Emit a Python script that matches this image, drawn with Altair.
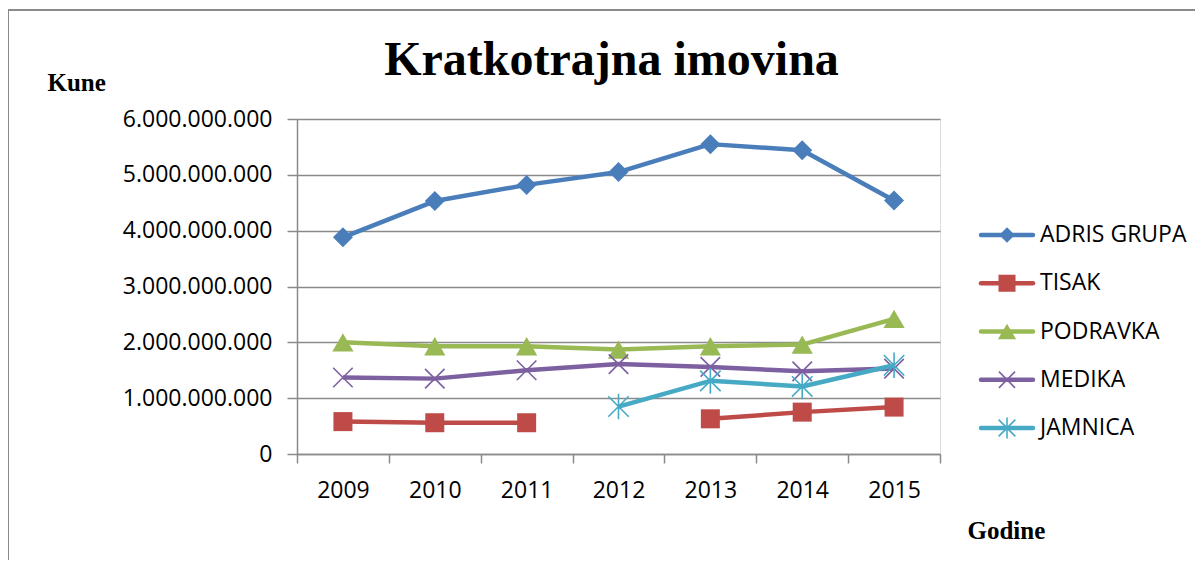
import altair as alt
import pandas as pd

# ---- data ----
years = ["2009", "2010", "2011", "2012", "2013", "2014", "2015"]
series_names = ["ADRIS GRUPA", "TISAK", "PODRAVKA", "MEDIKA", "JAMNICA"]
adris = [3880000000, 4530000000, 4820000000, 5050000000, 5550000000, 5440000000, 4540000000]
tisak = [580000000, 560000000, 560000000, None, 630000000, 750000000, 840000000]
podravka = [2000000000, 1930000000, 1930000000, 1870000000, 1930000000, 1960000000, 2420000000]
medika = [1370000000, 1350000000, 1500000000, 1610000000, 1560000000, 1480000000, 1530000000]
jamnica = [None, None, None, 850000000, 1310000000, 1210000000, 1590000000]
y_ticks = [0, 1000000000, 2000000000, 3000000000, 4000000000, 5000000000, 6000000000]
chart_title = ["Kratkotrajna imovina"]

# ---- styles ----
colors = ["#4A7EBB", "#BE4B48", "#98B954", "#7D60A0", "#46AAC5"]
X_PATH = "M-1,-1L1,1M-1,1L1,-1"
AST_PATH = "M-1,-1L1,1M-1,1L1,-1M0,-1.25L0,1.25"
shapes = ["diamond", "square", "triangle-up", X_PATH, AST_PATH]
filled = [True, True, True, False, False]
msize = [400, 361, 450, 380, 420]
lsize = [240, 290, 330, 260, 280]
GRID = "#8a8a8a"
SANS = "Open Sans"
SERIF = "Liberation Serif"

all_values = [adris, tisak, podravka, medika, jamnica]


def long_frame(name, vals):
    rows = []
    seg = 0
    for yr, v in zip(years, vals):
        if v is None:
            seg += 1
            continue
        rows.append({"year": yr, "value": v, "series": name, "seg": seg})
    return pd.DataFrame(rows)


x_enc = alt.X(
    "year:O",
    scale=alt.Scale(type="band", domain=years, paddingInner=0, paddingOuter=0),
    axis=alt.Axis(
        tickBand="extent", labelAngle=0, grid=False,
        labelFont=SANS, labelFontSize=23, labelColor="black", labelPadding=16,
        tickSize=9, tickColor=GRID, tickWidth=1.5, domainColor=GRID, domainWidth=1.5,
        title="Godine", titleX=670, titleY=84, titleAngle=0, titleAlign="left",
        titleBaseline="alphabetic", titleFont=SERIF, titleFontSize=25,
        titleFontWeight="bold", titleColor="black",
    ),
)
y_enc = alt.Y(
    "value:Q",
    scale=alt.Scale(domain=[0, 6000000000], nice=False, zero=True),
    axis=alt.Axis(
        values=y_ticks,
        labelExpr="replace(format(datum.value, ','), regexp(',', 'g'), '.')",
        grid=True, gridColor=GRID, gridWidth=1.5,
        labelFont=SANS, labelFontSize=23, labelColor="black", labelPadding=15,
        tickSize=10, tickColor=GRID, tickWidth=1.5, domainColor=GRID, domainWidth=1.5,
        title="Kune", titleX=-250, titleY=-29, titleAngle=0, titleAlign="left",
        titleBaseline="alphabetic", titleFont=SERIF, titleFontSize=25,
        titleFontWeight="bold", titleColor="black",
    ),
)

series_layers = []
for i, name in enumerate(series_names):
    df = long_frame(name, all_values[i])
    base = alt.Chart(df)
    line = base.mark_line(color=colors[i], strokeWidth=4.5, strokeJoin="round").encode(
        x=x_enc, y=y_enc, detail="seg:N"
    )
    pts = base.mark_point(
        shape=shapes[i], filled=filled[i], size=msize[i], color=colors[i],
        opacity=1, strokeWidth=1.6,
    ).encode(x=x_enc, y=y_enc)
    series_layers += [line, pts]

main = alt.layer(*series_layers)

# ---- manual legend (line + marker) ----
ly = alt.Y(
    "name:N",
    scale=alt.Scale(type="point", domain=series_names, range=[116, 309], padding=0),
    axis=None,
)
legend_layers = []
for i, name in enumerate(series_names):
    ld = alt.Chart(pd.DataFrame({"name": [name]}))
    legend_layers.append(
        ld.mark_rule(color=colors[i], strokeWidth=4.5, strokeCap="round").encode(
            x=alt.value(684), x2=alt.value(736), y=ly
        )
    )
    legend_layers.append(
        ld.mark_point(
            shape=shapes[i], filled=filled[i], size=lsize[i], color=colors[i],
            opacity=1, strokeWidth=1.6,
        ).encode(x=alt.value(710), y=ly)
    )
    legend_layers.append(
        ld.mark_text(align="left", baseline="middle", font=SANS, fontSize=23,
                     color="black").encode(x=alt.value(743), y=ly, text="name:N")
    )
legend = alt.layer(*legend_layers)

# ---- title as text ----
title_layer = alt.Chart(pd.DataFrame({"t": chart_title})).mark_text(
    font=SERIF, fontSize=48, fontWeight="bold", color="black",
    align="center", baseline="alphabetic",
).encode(x=alt.value(314.5), y=alt.value(-44), text="t:N")

# ---- outer frame ----
fd = alt.Chart(pd.DataFrame({"k": [0]}))
frame_top = fd.mark_rule(color=GRID, strokeWidth=2).encode(
    x=alt.value(-289), x2=alt.value(900), y=alt.value(-109)
)
frame_left = fd.mark_rule(color=GRID, strokeWidth=2).encode(
    x=alt.value(-289), y=alt.value(-109), y2=alt.value(445)
)

chart = (
    alt.layer(frame_top, frame_left, title_layer, main, legend)
    .resolve_scale(y="independent")
    .properties(
        width=643,
        height=335,
        autosize=alt.AutoSizeParams(type="none"),
        padding={"left": 289, "top": 111, "right": 255, "bottom": 106},
    )
    .configure_view(stroke=None)
    .configure(background="white")
)

chart.save("out.html", embed_options={"renderer": "svg", "actions": False})
